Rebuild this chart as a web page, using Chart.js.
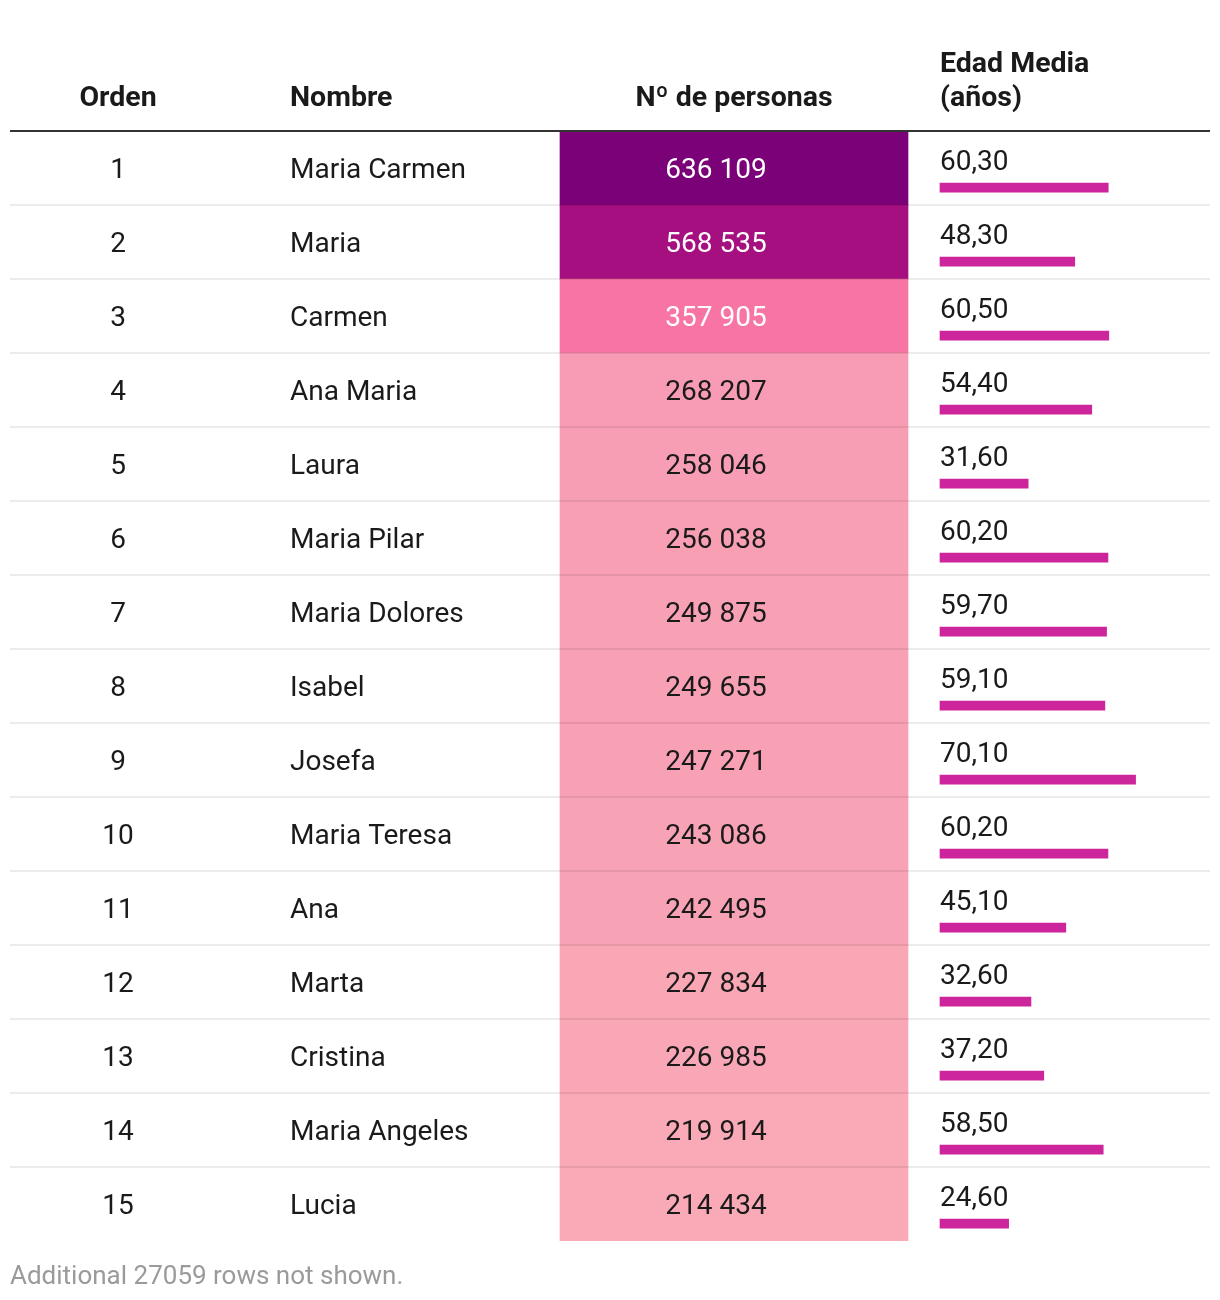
<!DOCTYPE html>
<html><head><meta charset="utf-8">
<script src="https://cdn.jsdelivr.net/npm/chart.js@4/dist/chart.umd.min.js"></script>
<style>html,body{margin:0;padding:0;background:#fff;}canvas{display:block;}</style>
</head><body>
<canvas id="c" width="1220" height="1300"></canvas>
<script>
const orden = [1,2,3,4,5,6,7,8,9,10,11,12,13,14,15];
const nombres = ["Maria Carmen","Maria","Carmen","Ana Maria","Laura","Maria Pilar","Maria Dolores","Isabel","Josefa","Maria Teresa","Ana","Marta","Cristina","Maria Angeles","Lucia"];
const personas = [636109,568535,357905,268207,258046,256038,249875,249655,247271,243086,242495,227834,226985,219914,214434];
const edadMedia = [60.3,48.3,60.5,54.4,31.6,60.2,59.7,59.1,70.1,60.2,45.1,32.6,37.2,58.5,24.6];
const headers = ["Orden","Nombre","Nº de personas",["Edad Media","(años)"]];
const footer = "Additional 27059 rows not shown.";

const FONT = "Roboto, 'Noto Sans', sans-serif";
const COL = {ordenCenter:108, nombreLeft:280, heatLeft:550, heatRight:898, numCenter:706}; // in xCol units (0 = table left)
const rampStops = [[0,"#faaab6"],[0.125,"#f79cb4"],[0.34,"#f774a5"],[0.84,"#a50f80"],[1,"#7a0177"]];
function hex(h){return [1,3,5].map(i=>parseInt(h.substr(i,2),16));}
function ramp(v){
  const mn=Math.min(...personas), mx=Math.max(...personas);
  let t=(v-mn)/(mx-mn); t=Math.max(0,Math.min(1,t));
  let k=0; while(k<rampStops.length-2 && t>rampStops[k+1][0]) k++;
  const f=(t-rampStops[k][0])/(rampStops[k+1][0]-rampStops[k][0]);
  const a=hex(rampStops[k][1]), b=hex(rampStops[k+1][1]);
  const c=a.map((x,i)=>Math.round(x+(b[i]-x)*f));
  return {css:`rgb(${c[0]},${c[1]},${c[2]})`, lum:(0.299*c[0]+0.587*c[1]+0.114*c[2])};
}
function fmtInt(v){return String(v).replace(/\B(?=(\d{3})+(?!\d))/g,' ');}
function fmtAge(v){return v.toFixed(2).replace('.',',');}

const tablePlugin = {
  id:'tableText',
  afterDatasetsDraw(chart){
    const ctx=chart.ctx, y=chart.scales.y, xc=chart.scales.xCol, xa=chart.scales.xAge;
    const left=chart.chartArea.left, right=chart.chartArea.right;
    ctx.save();
    // row separators
    ctx.strokeStyle='rgba(0,0,0,0.075)'; ctx.lineWidth=2;
    for(let i=1;i<orden.length;i++){
      const py=Math.round(y.getPixelForValue(i));
      ctx.beginPath(); ctx.moveTo(left,py); ctx.lineTo(right,py); ctx.stroke();
    }
    // header line
    const top=y.getPixelForValue(0);
    ctx.strokeStyle='#333'; ctx.lineWidth=2;
    ctx.beginPath(); ctx.moveTo(left,top); ctx.lineTo(right,top); ctx.stroke();
    // headers
    ctx.fillStyle='#1a1a1a'; ctx.font="bold 28.5px "+FONT; ctx.textBaseline='middle';
    const hy=top-32;
    ctx.textAlign='center'; ctx.fillText(headers[0], xc.getPixelForValue(COL.ordenCenter), hy);
    ctx.textAlign='left'; ctx.fillText(headers[1], xc.getPixelForValue(COL.nombreLeft), hy);
    ctx.textAlign='center'; ctx.fillText(headers[2], xc.getPixelForValue((COL.heatLeft+COL.heatRight)/2), hy);
    ctx.textAlign='left';
    ctx.fillText(headers[3][0], xa.getPixelForValue(0), hy-34);
    ctx.fillText(headers[3][1], xa.getPixelForValue(0), hy);
    // rows
    ctx.font="28px "+FONT;
    for(let i=0;i<orden.length;i++){
      const cy=y.getPixelForValue(i+0.5)+3;
      ctx.fillStyle='#1a1a1a';
      ctx.textAlign='center'; ctx.fillText(String(orden[i]), xc.getPixelForValue(COL.ordenCenter), cy);
      ctx.textAlign='left'; ctx.fillText(nombres[i], xc.getPixelForValue(COL.nombreLeft), cy);
      const c=ramp(personas[i]);
      ctx.fillStyle = c.lum<170 ? '#ffffff' : '#1a1a1a';
      ctx.textAlign='center'; ctx.fillText(fmtInt(personas[i]), xc.getPixelForValue(COL.numCenter), cy);
      ctx.fillStyle='#1a1a1a'; ctx.textAlign='left';
      ctx.fillText(fmtAge(edadMedia[i]), xa.getPixelForValue(0), cy-8);
    }
    // footer
    ctx.fillStyle='#9a9a9a'; ctx.font="26px "+FONT; ctx.textAlign='left';
    ctx.fillText(footer, left, chart.chartArea.bottom+36);
    ctx.restore();
  }
};

const pxPerYear = 2.79;
const ageZeroOffset = 930;
new Chart(document.getElementById('c'), {
  type:'bar',
  data:{
    datasets:[
      {
        label:'Nº de personas',
        data: personas.map((v,i)=>({x:[COL.heatLeft,COL.heatRight], y:i+0.5})),
        xAxisID:'xCol', yAxisID:'y',
        backgroundColor: personas.map(v=>ramp(v).css),
        barPercentage:1, categoryPercentage:1, grouped:false, borderWidth:0
      },
      {
        label:'Edad Media',
        data: edadMedia.map((v,i)=>({x:[0,v], y:i+0.5})),
        xAxisID:'xAge', yAxisID:'yAge',
        backgroundColor:'#cd259b',
        barThickness:9, grouped:false, borderWidth:0
      }
    ]
  },
  options:{
    indexAxis:'y',
    responsive:false, animation:false,
    layout:{padding:{left:10,right:10,top:131,bottom:59}},
    plugins:{legend:{display:false}, tooltip:{enabled:false}},
    scales:{
      y:{type:'linear', min:0, max:15, reverse:true, display:false, offset:false},
      yAge:{type:'linear', min:-0.265, max:15-0.265, reverse:true, display:false, offset:false},
      xCol:{type:'linear', min:0, max:1200, display:false, offset:false},
      xAge:{type:'linear', min:-ageZeroOffset/pxPerYear, max:(1200-ageZeroOffset)/pxPerYear, display:false, offset:false}
    }
  },
  plugins:[tablePlugin]
});
</script>
</body></html>
